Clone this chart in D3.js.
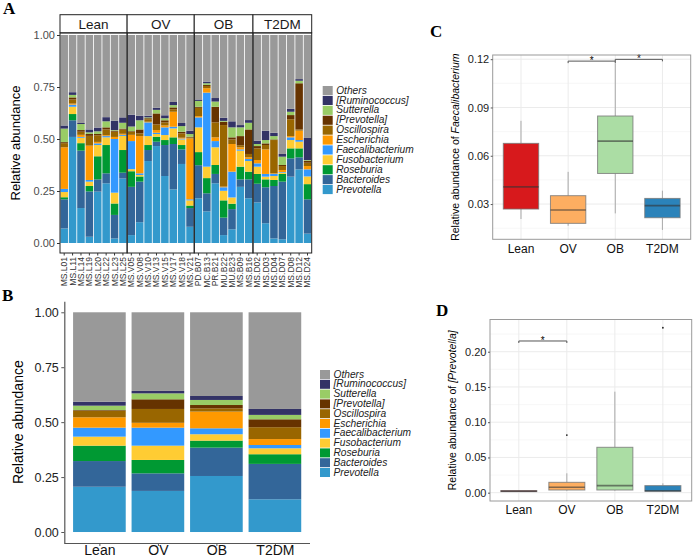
<!DOCTYPE html>
<html>
<head>
<meta charset="utf-8">
<script src="https://cdn.jsdelivr.net/npm/d3@7"></script>
<style>
  body { margin: 0; background: #fff; }
  text { font-family: "Liberation Sans", Arial, sans-serif; }
</style>
</head>
<body>
<svg id="fig" width="693" height="558"></svg>
<script>
//taxa, bottom of the stack first
var taxa = ["Prevotella", "Bacteroides", "Roseburia", "Fusobacterium", "Faecalibacterium",
  "Escherichia", "Oscillospira", "[Prevotella]", "Sutterella", "[Ruminococcus]", "Others"];
var taxaColors = ["#3399cc", "#336699", "#009933", "#ffcc33", "#3399ff",
  "#ff9900", "#996600", "#663300", "#99cc66", "#333366", "#999999"];

var groups = ["Lean", "OV", "OB", "T2DM"];
var groupSizes = [8, 8, 7, 7];
var groupColors = ["#d7191c", "#fdae61", "#abdda4", "#2b83ba"];

var samples = ["MS.L01", "MS.L11", "MS.L14", "MS.L19", "MS.L20", "MS.L22", "MS.L23", "MS.L25",
  "MS.V05", "MS.V08", "MS.V10", "MS.V13", "MS.V15", "MS.V17", "MS.V18", "MS.V21",
  "PD.B07", "MC.B13", "PR.B21", "MU.B22", "MU.B23", "MS.B09", "MS.B16",
  "MS.D02", "MS.D03", "MS.D04", "MS.D07", "MS.D08", "MS.D12", "MS.D24"];

//panel A: relative abundance per sample
var prevotella = [.070,.510,.168,.030,.247,.287,.022,.310, .038,.100,.394,.466,.322,.258,.380,.078, .215,.152,.287,.038,.066,.270,.215, .195,.095,.022,.018,.319,.354,.045];
var bacteroides = [.140,.080,.276,.218,.059,.048,.113,.028, .232,.195,.053,.021,.149,.218,.070,.090, .159,.087,.045,.084,.097,.036,.091, .090,.173,.252,.277,.088,.058,.165];
var roseburia = [.010,.030,.036,.026,.111,.136,.055,.109, .075,.025,.024,.024,.024,.032,.021,.012, .063,.073,.043,.083,.026,.061,.037, .047,.038,.029,.037,.048,.043,.073];
var fusobacterium = [.025,.035,.026,.021,.054,.037,.052,.068, .010,.007,.043,.013,.024,.043,.027,.025, .119,.055,.085,.046,.030,.077,.051, .035,.013,.019,.006,.040,.032,.037];
var faecalibacterium = [.015,.010,.004,.008,.008,.006,.258,.005, .135,.008,.066,.006,.037,.008,.004,.005, .048,.356,.030,.017,.124,.006,.010, .016,.013,.010,.003,.013,.008,.034];
var escherichia = [.200,.005,.010,.165,.007,.004,.010,.005, .030,.179,.003,.013,.009,.072,.004,.293, .006,.021,.018,.003,.133,.010,.008, .016,.118,.003,.010,.006,.045,.016];
var oscillospira = [.020,.020,.015,.047,.032,.028,.025,.020, .015,.013,.012,.027,.015,.012,.021,.005, .040,.011,.072,.296,.022,.010,.016, .056,.021,.160,.019,.081,.006,.016];
var prevotellaBr = [.005,.010,.008,.009,.006,.010,.005,.005, .003,.019,.005,.053,.010,.009,.008,.003, .005,.005,.075,.016,.010,.044,.118, .011,.008,.003,.005,.020,.222,.010];
var sutterella = [.065,.012,.029,.008,.013,.029,.003,.028, .022,.044,.004,.017,.010,.011,.027,.013, .028,.008,.025,.004,.048,.042,.032, .010,.016,.016,.040,.016,.012,.003];
var ruminococcus = [.015,.013,.005,.014,.018,.020,.045,.026, .057,.022,.008,.010,.014,.015,.015,.016, .007,.008,.017,.015,.029,.011,.013, .016,.045,.016,.013,.014,.008,.106];
var others = [.435,.275,.423,.454,.445,.395,.412,.396, .383,.388,.388,.350,.386,.322,.423,.460, .310,.224,.303,.398,.415,.433,.409, .508,.460,.470,.572,.355,.212,.495];

//panel B: group means, same taxa order
var meanLean = [.206, .117, .070, .041, .041, .047, .030, .003, .020, .018, .407];
var meanOV   = [.187, .080, .061, .065, .082, .022, .063, .044, .027, .011, .358];
var meanOB   = [.255, .129, .032, .029, .027, .076, .015, .015, .023, .018, .381];
var meanT2DM = [.149, .161, .044, .027, .015, .027, .054, .036, .020, .027, .440];

//panel C/D: box stats [lower whisker, q1, median, q3, upper whisker] per group
var faecaliBoxes = [
  [0.0207, 0.0269, 0.0407, 0.0677, 0.0817],
  [0.0165, 0.0180, 0.0263, 0.0352, 0.0500],
  [0.0242, 0.0490, 0.0691, 0.0847, 0.1174],
  [0.0139, 0.0215, 0.0290, 0.0335, 0.0383]];
var faecaliOutliers = [];
var faecaliSig = [["OV", "OB", 0.1188], ["OB", "T2DM", 0.1199]];

var prevBrBoxes = [
  [0.0010, 0.0015, 0.0020, 0.0030, 0.0035],
  [0.0030, 0.0038, 0.0077, 0.0147, 0.0275],
  [0.0030, 0.0038, 0.0100, 0.0644, 0.1433],
  [0.0010, 0.0020, 0.0028, 0.0100, 0.0133]];
var prevBrOutliers = [["OV", 0.0818], ["T2DM", 0.234]];
var prevBrSig = [["Lean", "OV", 0.2152]];

var svg = d3.select("#fig");
var color = d3.scaleOrdinal().domain(taxa).range(taxaColors);

//panel letters
svg.selectAll(".letter")
  .data([["A", 3, 14], ["B", 2, 301], ["C", 430, 37], ["D", 436, 316]])
  .enter().append("text")
    .attr("x", function(d) { return d[1]; })
    .attr("y", function(d) { return d[2]; })
    .style("font-family", "'Liberation Serif', 'Times New Roman', serif")
    .attr("font-weight", "bold")
    .attr("font-size", 17)
    .text(function(d) { return d[0]; });

// ---------- panel A ----------
var taxaValues = [prevotella, bacteroides, roseburia, fusobacterium, faecalibacterium,
  escherichia, oscillospira, prevotellaBr, sutterella, ruminococcus, others];
var rowsA = samples.map(function(s, i) {
  var r = {sample: s};
  taxa.forEach(function(t, k) { r[t] = taxaValues[k][i]; });
  return r;
});
var stackA = d3.stack().keys(taxa)(rowsA);

var aLeft = 60, aRight = 311.7, aTop = 33, aBottom = 253;
var yA = d3.scaleLinear().domain([0, 1]).range([243, 35]);
var xIdx = d3.scaleLinear().domain([0, samples.length]).range([aLeft, aRight]);

var facetStart = [];
var bands = groups.map(function(g, k) {
  var start = d3.sum(groupSizes.slice(0, k));
  facetStart.push(start);
  return d3.scaleBand()
    .domain(samples.slice(start, start + groupSizes[k]))
    .range([xIdx(start), xIdx(start + groupSizes[k])])
    .paddingInner(0.1).paddingOuter(0.05);
});
function bandOf(s) {
  var i = samples.indexOf(s);
  for (var k = groups.length - 1; k >= 0; k--) if (i >= facetStart[k]) return bands[k];
}
function xA(s) { return bandOf(s)(s); }

var gA = svg.append("g");
gA.selectAll(".layer")
  .data(stackA)
  .enter().append("g")
    .attr("fill", function(d) { return color(d.key); })
  .selectAll("rect")
  .data(function(d) { return d; })
  .enter().append("rect")
    .attr("x", function(d) { return xA(d.data.sample); })
    .attr("width", function(d) { return bandOf(d.data.sample).bandwidth(); })
    .attr("y", function(d) { return yA(d[1]); })
    .attr("height", function(d) { return yA(d[0]) - yA(d[1]); });

//facet borders and strips
groups.forEach(function(g, k) {
  var x0 = xIdx(facetStart[k]), x1 = xIdx(facetStart[k] + groupSizes[k]);
  gA.append("rect")
    .attr("x", x0).attr("y", aTop).attr("width", x1 - x0).attr("height", aBottom - aTop)
    .attr("fill", "none").attr("stroke", "#222").attr("stroke-width", 1);
  gA.append("rect")
    .attr("x", x0).attr("y", 14.7).attr("width", x1 - x0).attr("height", 18)
    .attr("fill", "#fff").attr("stroke", "#222").attr("stroke-width", 1);
  gA.append("text")
    .attr("x", (x0 + x1) / 2).attr("y", 28.5)
    .attr("text-anchor", "middle")
    .attr("font-size", 13.5).attr("fill", "#1a1a1a")
    .text(g);
});

var axA = gA.append("g")
  .attr("transform", "translate(" + aLeft + ",0)")
  .call(d3.axisLeft(yA).tickValues([0, .25, .5, .75, 1]).tickFormat(d3.format(".2f")).tickSize(3).tickPadding(2));
axA.select(".domain").remove();
axA.selectAll("text").attr("font-size", 11).attr("fill", "#4d4d4d");
axA.selectAll("line").attr("stroke", "#333");

//sample labels
gA.selectAll(".tickx")
  .data(samples)
  .enter().append("line")
    .attr("x1", function(d) { return xA(d) + bandOf(d).bandwidth() / 2; })
    .attr("x2", function(d) { return xA(d) + bandOf(d).bandwidth() / 2; })
    .attr("y1", aBottom).attr("y2", aBottom + 2.5)
    .attr("stroke", "#333");
gA.selectAll(".samp")
  .data(samples)
  .enter().append("text")
    .attr("transform", function(d) {
      return "translate(" + (xA(d) + bandOf(d).bandwidth() / 2) + "," + (aBottom + 4) + ") rotate(-90)";
    })
    .attr("dy", "0.35em")
    .attr("text-anchor", "end")
    .attr("font-size", 8.5)
    .attr("fill", "#333")
    .text(function(d) { return d; });

svg.append("text")
  .attr("transform", "translate(20," + (aTop + aBottom) / 2 + ") rotate(-90)")
  .attr("text-anchor", "middle")
  .attr("font-size", 13)
  .text("Relative abundance");

//legend helper
function legend(x, y0, step) {
  var lg = svg.append("g").selectAll("g")
    .data(taxa.slice().reverse())
    .enter().append("g")
      .attr("transform", function(d, i) { return "translate(" + x + "," + (y0 + i * step) + ")"; });
  lg.append("rect")
    .attr("width", 10).attr("height", step - 0.8)
    .attr("fill", color);
  lg.append("text")
    .attr("x", 13.5).attr("y", step - 2.3)
    .attr("font-size", 10.2)
    .attr("font-style", "italic")
    .attr("fill", "#222")
    .text(function(d) { return d; });
}
legend(322.7, 86, 9.9);

// ---------- panel B ----------
var rowsB = groups.map(function(g, i) {
  var vals = [meanLean, meanOV, meanOB, meanT2DM][i];
  var r = {group: g};
  taxa.forEach(function(t, k) { r[t] = vals[k]; });
  return r;
});
var stackB = d3.stack().keys(taxa)(rowsB);

var bLeft = 64.3, bRight = 310;
var yB = d3.scaleLinear().domain([-0.05, 1.05]).range([543, 301.3]);
var xB = d3.scalePoint().domain(groups).range([bLeft, bRight]).padding(0.6);
var bw = xB.step() * 0.9;

var gB = svg.append("g");
gB.selectAll(".layer")
  .data(stackB)
  .enter().append("g")
    .attr("fill", function(d) { return color(d.key); })
  .selectAll("rect")
  .data(function(d) { return d; })
  .enter().append("rect")
    .attr("x", function(d) { return xB(d.data.group) - bw / 2; })
    .attr("width", bw)
    .attr("y", function(d) { return yB(d[1]); })
    .attr("height", function(d) { return yB(d[0]) - yB(d[1]); });

var axBy = gB.append("g")
  .attr("transform", "translate(" + bLeft + ",0)")
  .call(d3.axisLeft(yB).tickValues([0, .25, .5, .75, 1]).tickFormat(d3.format(".2f")).tickSize(3).tickPadding(2.5).tickSizeOuter(0));
var axBx = gB.append("g")
  .attr("transform", "translate(0,543)")
  .call(d3.axisBottom(xB).tickSize(3).tickSizeOuter(0));
axBx.select(".domain").attr("d", "M" + bLeft + ",0.5H" + bRight);
[axBy, axBx].forEach(function(a) {
  a.select(".domain").attr("stroke", "#555").attr("stroke-width", 1.2);
  a.selectAll("line").attr("stroke", "#555");
});
axBy.selectAll("text").attr("font-size", 12.5).attr("fill", "#222");
//keep the group names inside the bottom edge
axBx.selectAll("text")
  .attr("y", 12.3).attr("dy", null)
  .attr("font-size", 14).attr("fill", "#111");

svg.append("text")
  .attr("transform", "translate(23," + (301.3 + 543) / 2 + ") rotate(-90)")
  .attr("text-anchor", "middle")
  .attr("font-size", 14)
  .text("Relative abundance");

legend(320, 370, 9.8);

// ---------- panels C and D ----------
function boxPanel(p) {
  var g = svg.append("g");
  var x = d3.scalePoint().domain(groups).range([p.left, p.right]).padding(0.6);
  var y = d3.scaleLinear().domain(p.domain).range([p.bottom, p.top]);
  var w = x.step() * 0.75;

  //grid
  g.selectAll(".minor").data(p.minor).enter().append("line")
    .attr("x1", p.left).attr("x2", p.right)
    .attr("y1", y).attr("y2", y)
    .attr("stroke", "#f2f2f2").attr("stroke-width", 0.6);
  g.selectAll(".major").data(p.major).enter().append("line")
    .attr("x1", p.left).attr("x2", p.right)
    .attr("y1", y).attr("y2", y)
    .attr("stroke", "#ebebeb").attr("stroke-width", 1);
  g.selectAll(".vgrid").data(groups).enter().append("line")
    .attr("x1", x).attr("x2", x)
    .attr("y1", p.top).attr("y2", p.bottom)
    .attr("stroke", "#ebebeb").attr("stroke-width", 1);

  //boxes
  groups.forEach(function(grp, i) {
    var s = p.stats[i], cx = x(grp);
    g.append("line").attr("x1", cx).attr("x2", cx)
      .attr("y1", y(s[0])).attr("y2", y(s[1]))
      .attr("stroke", "#aaa").attr("stroke-width", 1);
    g.append("line").attr("x1", cx).attr("x2", cx)
      .attr("y1", y(s[3])).attr("y2", y(s[4]))
      .attr("stroke", "#aaa").attr("stroke-width", 1);
    g.append("rect")
      .attr("x", cx - w / 2).attr("width", w)
      .attr("y", y(s[3])).attr("height", Math.max(y(s[1]) - y(s[3]), 0.5))
      .attr("fill", groupColors[i])
      .attr("stroke", "#777").attr("stroke-opacity", 0.8).attr("stroke-width", 1);
    g.append("line")
      .attr("x1", cx - w / 2).attr("x2", cx + w / 2)
      .attr("y1", y(s[2])).attr("y2", y(s[2]))
      .attr("stroke", "#333").attr("stroke-opacity", 0.6).attr("stroke-width", 1.6);
  });

  g.selectAll(".out").data(p.outliers).enter().append("circle")
    .attr("cx", function(d) { return x(d[0]); })
    .attr("cy", function(d) { return y(d[1]); })
    .attr("r", 0.9).attr("fill", "#222");

  //significance brackets
  p.sig.forEach(function(s) {
    var x0 = x(s[0]), x1 = x(s[1]), yy = y(s[2]);
    g.append("path")
      .attr("d", "M" + x0 + "," + (yy + 2) + "V" + yy + "H" + x1 + "V" + (yy + 2))
      .attr("fill", "none").attr("stroke", "#555").attr("stroke-width", 1);
    g.append("text")
      .attr("x", (x0 + x1) / 2).attr("y", yy + 3)
      .attr("text-anchor", "middle").attr("font-size", 10)
      .text("*");
  });

  g.append("rect")
    .attr("x", p.left).attr("y", p.top)
    .attr("width", p.right - p.left).attr("height", p.bottom - p.top)
    .attr("fill", "none").attr("stroke", "#9a9a9a").attr("stroke-width", 1);

  var ay = g.append("g")
    .attr("transform", "translate(" + p.left + ",0)")
    .call(d3.axisLeft(y).tickValues(p.major).tickFormat(d3.format(p.fmt)).tickSize(2).tickPadding(1.5));
  ay.select(".domain").remove();
  ay.selectAll("line").attr("stroke", "#555");
  ay.selectAll("text").attr("font-size", 11).attr("fill", "#222");

  g.selectAll(".xl").data(groups).enter().append("text")
    .attr("x", x).attr("y", p.bottom + 13.3)
    .attr("text-anchor", "middle")
    .attr("font-size", 12).attr("fill", "#111")
    .text(function(d) { return d; });

  var t = g.append("text")
    .attr("transform", "translate(" + p.titleX + "," + (p.top + p.bottom) / 2 + ") rotate(-90)")
    .attr("text-anchor", "middle")
    .attr("font-size", 10.5);
  t.append("tspan").text("Relative abundance of ");
  t.append("tspan").attr("font-style", "italic").text(p.taxon);
}

boxPanel({
  left: 492.7, right: 690.7, top: 55, bottom: 239.3,
  domain: [0.0081, 0.1226],
  major: [0.03, 0.06, 0.09, 0.12], minor: [0.015, 0.045, 0.075, 0.105],
  fmt: ".2f", stats: faecaliBoxes, outliers: faecaliOutliers, sig: faecaliSig,
  titleX: 459, taxon: "Faecalibacterium"
});

boxPanel({
  left: 490, right: 691.7, top: 319.5, bottom: 501,
  domain: [-0.0118, 0.2457],
  major: [0, 0.05, 0.10, 0.15, 0.20], minor: [0.025, 0.075, 0.125, 0.175, 0.225],
  fmt: ".2f", stats: prevBrBoxes, outliers: prevBrOutliers, sig: prevBrSig,
  titleX: 456, taxon: "[Prevotella]"
});
</script>
</body>
</html>
